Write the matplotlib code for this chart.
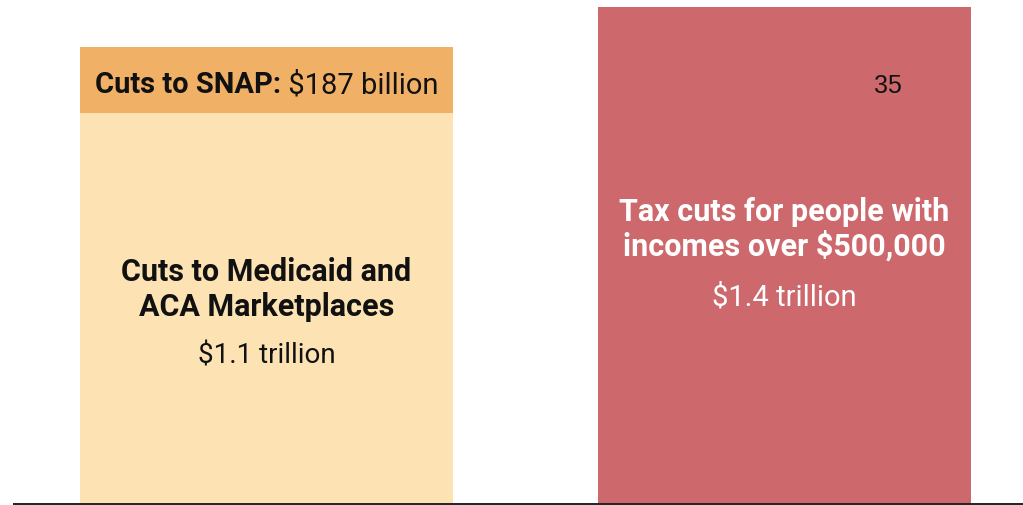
import matplotlib
matplotlib.use("Agg")
import matplotlib.pyplot as plt
import matplotlib.transforms as mtransforms

# Values in trillions of dollars
categories = ["Cuts to SNAP, Medicaid and ACA", "Tax cuts for people with incomes over $500,000"]
medicaid_aca = [1.1, 0.0]
snap = [0.187, 0.0]
tax_cuts = [0.0, 1.4]

medicaid_label = ["Cuts to Medicaid and", "ACA Marketplaces", "$1.1 trillion"]
snap_label = ["Cuts to SNAP:", " $187 billion"]
tax_label = ["Tax cuts for people with", "incomes over $500,000", "$1.4 trillion"]
page_number = "35"

C_MEDICAID = "#FDE3B3"
C_SNAP = "#F0B166"
C_TAX = "#CD696D"

W, H = 1023, 505
fig = plt.figure(figsize=(W / 100, H / 100), dpi=100)
ax = fig.add_axes([0, 0, 1, 1])
ax.set_axis_off()

FONT = "Roboto"
px_per_unit = 355.0
base_px = 1.0
ax.set_xlim(-266.5 / 518, (W - 266.5) / 518)
ax.set_ylim(-base_px / px_per_unit, (H - base_px) / px_per_unit)

x = [0, 1]
width = 0.72
ax.bar(x[0], medicaid_aca[0], width=width, color=C_MEDICAID, linewidth=0)
ax.bar(x[0], snap[0], width=width, bottom=medicaid_aca[0], color=C_SNAP, linewidth=0)
ax.bar(x[1], tax_cuts[1], width=width, color=C_TAX, linewidth=0)

# baseline
ax.plot([(13 - 266.5) / 518, (W - 266.5) / 518], [0, 0], color="#222222",
        linewidth=1.4, solid_capstyle="butt", clip_on=False)

xt = ax.get_xaxis_transform()


def ypx(py):
    return (H - py) / H


BOLD_SIZE = 22

# Medicaid / ACA label
ax.text(x[0], ypx(281), medicaid_label[0], transform=xt, ha="center", va="baseline",
        fontsize=BOLD_SIZE, fontweight="bold", family=FONT, color="#111111")
ax.text(x[0], ypx(316), medicaid_label[1], transform=xt, ha="center", va="baseline",
        fontsize=BOLD_SIZE, fontweight="bold", family=FONT, color="#111111")
ax.text(x[0], ypx(364), medicaid_label[2], transform=xt, ha="center", va="baseline",
        fontsize=20, family=FONT, color="#111111")

# Tax cut label
ax.text(x[1], ypx(221), tax_label[0], transform=xt, ha="center", va="baseline",
        fontsize=BOLD_SIZE, fontweight="bold", family=FONT, color="white")
ax.text(x[1], ypx(256), tax_label[1], transform=xt, ha="center", va="baseline",
        fontsize=BOLD_SIZE, fontweight="bold", family=FONT, color="white")
ax.text(x[1], ypx(305), tax_label[2], transform=xt, ha="center", va="baseline",
        fontsize=21, family=FONT, color="white")

# SNAP label: bold lead-in followed by regular amount, centred on the bar
renderer = fig.canvas.get_renderer()
probe1 = ax.text(0, 0, snap_label[0], fontsize=21, fontweight="bold", family=FONT)
probe2 = ax.text(0, 0, snap_label[1], fontsize=21, family=FONT)
total = (probe1.get_window_extent(renderer).width
         + probe2.get_window_extent(renderer).width)
probe1.remove()
probe2.remove()
snap_y = ypx(93)
off = mtransforms.offset_copy(xt, fig=fig, x=-total / 2, units="dots")
t1 = ax.text(x[0], snap_y, snap_label[0], transform=off, ha="left", va="baseline",
             fontsize=21, fontweight="bold", family=FONT, color="#111111")
ax.annotate(snap_label[1], xy=(1, 0), xycoords=t1, ha="left", va="bottom",
            fontsize=21, family=FONT, color="#111111")

# page number, placed in pixel x / axes-fraction y
pn_trans = mtransforms.blended_transform_factory(mtransforms.IdentityTransform(),
                                                 ax.transAxes)
ax.text(888, ypx(86), page_number, transform=pn_trans, ha="center", va="center",
        fontsize=18, family="Liberation Sans", color="#111111")

fig.savefig("out.png", dpi=100)
